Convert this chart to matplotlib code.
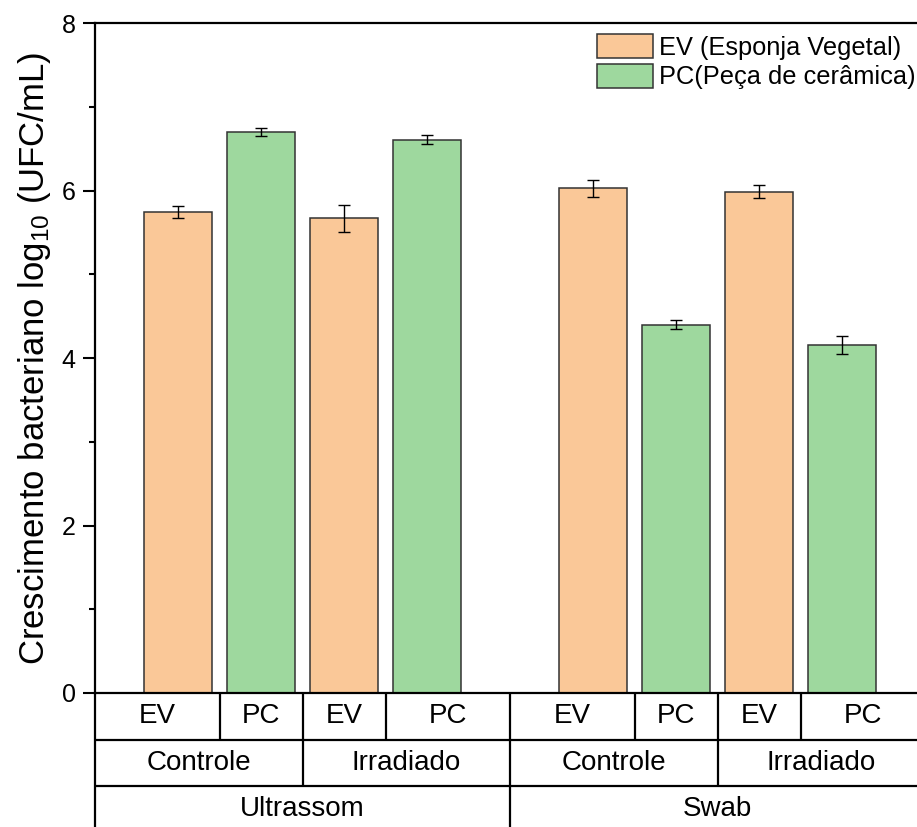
import matplotlib
matplotlib.use("Agg")
import matplotlib.pyplot as plt
from matplotlib.ticker import MultipleLocator

plt.rcParams.update({
    "font.family": ["Liberation Sans", "DejaVu Sans"],
    "mathtext.fontset": "custom",
    "mathtext.rm": "Liberation Sans",
    "mathtext.it": "Liberation Sans:italic",
    "mathtext.default": "regular",
})

# data (log10 UFC/mL), order: Ultrassom-Controle, Ultrassom-Irradiado, Swab-Controle, Swab-Irradiado
methods = ["Ultrassom", "Swab"]
conditions = ["Controle", "Irradiado"]
samples = ["EV", "PC"]
ev_mean = [5.75, 5.67, 6.03, 5.99]
ev_err = [0.07, 0.16, 0.10, 0.08]
pc_mean = [6.70, 6.61, 4.40, 4.16]
pc_err = [0.045, 0.057, 0.05, 0.105]
legend_labels = ["EV (Esponja Vegetal)", "PC(Peça de cerâmica)"]

C_EV = "#FAC898"
C_PC = "#9ED89E"

fig = plt.figure(figsize=(9.17, 8.27), dpi=100)
ax = fig.add_axes([95 / 917, 134 / 827, 830 / 917, 669.7 / 827])

# bar positions: 5 slots per method, 2 per condition
ev_x, pc_x = [], []
for m in range(len(methods)):
    for c in range(len(conditions)):
        base = 1 + 5 * m + 2 * c
        ev_x.append(base)
        pc_x.append(base + 1)

ekw = dict(ecolor="black", elinewidth=1.0, capsize=4.5, capthick=1.0)
ax.bar(ev_x, ev_mean, 0.81, yerr=ev_err, color=C_EV, edgecolor="#333333",
       linewidth=1.1, error_kw=ekw, label=legend_labels[0], zorder=2)
ax.bar(pc_x, pc_mean, 0.81, yerr=pc_err, color=C_PC, edgecolor="#333333",
       linewidth=1.1, error_kw=ekw, label=legend_labels[1], zorder=2)

ax.set_xlim(0, 10)
ax.set_ylim(0, 8)
ax.set_xticks([])
ax.yaxis.set_major_locator(MultipleLocator(2))
ax.yaxis.set_minor_locator(MultipleLocator(1))
ax.tick_params(axis="y", which="major", direction="out", length=9, width=1.5,
               labelsize=18, pad=5)
ax.tick_params(axis="y", which="minor", direction="out", length=4.5, width=1.5)
for s in ax.spines.values():
    s.set_linewidth(1.6)

ax.set_ylabel("Crescimento bacteriano log$_{10}$ (UFC/mL)", fontsize=25, labelpad=6)

# table-style category axis below the plot
row_h = 46.5 / (669.7 / 8)
rows = [0, -row_h, -2 * row_h, -3 * row_h]
lkw = dict(color="black", lw=1.6, clip_on=False, solid_capstyle="butt")
for y in rows[1:]:
    ax.plot([0, 10], [y, y], **lkw)
ax.plot([0, 0], [0, rows[3]], **lkw)
ax.plot([10, 10], [0, rows[3]], **lkw)

k = 0
for m, name in enumerate(methods):
    x0 = 5 * m
    # level 3: methods
    ax.text(x0 + 2.5, (rows[2] + rows[3]) / 2, name, ha="center", va="center",
            fontsize=20, clip_on=False)
    if m > 0:
        ax.plot([x0, x0], [0, rows[3]], **lkw)
    for c, cond in enumerate(conditions):
        cx0 = x0 + 2.5 * c
        # level 2: conditions
        ax.text(cx0 + 1.25, (rows[1] + rows[2]) / 2, cond, ha="center",
                va="center", fontsize=20, clip_on=False)
        if c > 0:
            ax.plot([cx0, cx0], [0, rows[2]], **lkw)
        # level 1: samples, divider half a slot right of the EV bar
        div = ev_x[k] + 0.5
        edges = [cx0, div, cx0 + 2.5]
        for s, lab in enumerate(samples):
            ax.text((edges[s] + edges[s + 1]) / 2, (rows[0] + rows[1]) / 2, lab,
                    ha="center", va="center", fontsize=20, clip_on=False)
        ax.plot([div, div], [0, rows[1]], **lkw)
        k += 1

ax.legend(loc="upper left", bbox_to_anchor=(597 / 917, 1 - 34 / 827),
          bbox_transform=fig.transFigure, frameon=False, fontsize=18.3,
          handlelength=2.2, handleheight=1.1, handletextpad=0.25,
          labelspacing=0.15, borderpad=0, borderaxespad=0)

fig.savefig("out.png", dpi=100)
